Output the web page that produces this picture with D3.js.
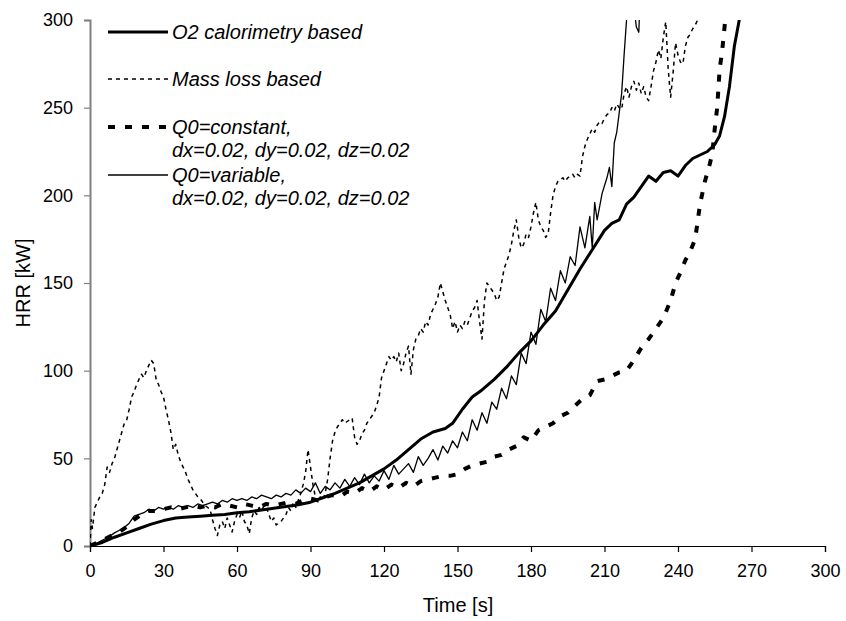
<!DOCTYPE html>
<html>
<head>
<meta charset="utf-8">
<script src="https://cdn.jsdelivr.net/npm/d3@7"></script>
<style>
  body { margin: 0; background: #fff; }
  svg { display: block; font-family: "Liberation Sans", Arial, sans-serif; }
</style>
</head>
<body>
<svg id="chart" width="846" height="621"></svg>
<script>
// ---------------- DATA ----------------
const xTicks = [0, 30, 60, 90, 120, 150, 180, 210, 240, 270, 300];
const yTicks = [0, 50, 100, 150, 200, 250, 300];

const seriesNames = [
  "O2 calorimetry based",
  "Mass loss based",
  "Q0=constant,",
  "Q0=variable,"
];
const seriesSubNames = ["", "", "dx=0.02, dy=0.02, dz=0.02", "dx=0.02, dy=0.02, dz=0.02"];

// O2 calorimetry based
const o2Time = [0,5,10,15,20,25,30,35,40,45,50,55,60,65,70,75,80,85,90,95,100,105,110,115,120,125,130,135,140,145,148,152,156,160,165,170,175,180,185,190,195,200,205,210,213,216,219,222,225,228,231,234,237,240,243,246,249,252,255,257,259,261,263,265,267];
const o2Value = [0,2,5,7.5,10,12.5,14.5,16,16.5,17,17.5,18,19,19.5,20.5,21.5,22.5,23.5,25,27.5,30,33,36,40,44,49,55,61,65,67,70,78,85,89,95,102,110,117,126,134,146,158,169,180,184,186,195,199,205,211,208,213,214,211,217,221,223,225,229,234,245,262,285,300,320];

// Mass loss based
const massTime = [0,0.5,1,2,3,4,5,6,7,8,9,10,11,12,13,14,15,16,17,18,19,20,21,22,23,24,25,26,27,28,29,30,31,32,33,34,35,36,37,38,39,40,41,42,43,44,45,46,47,48,49,50,51,52,53,54,55,56,57,58,59,60,61,62,63,64,65,66,67,68,69,70,71,72,73,74,75,76,77,78,79,80,81,82,83,84,85,86,87,88,89,90,91,92,93,94,95,96,97,98,99,100,101,102,103,104,105,106,107,108,109,110,111,112,113,114,115,116,117,118,119,120,121,122,123,124,125,126,127,128,129,130,131,132,133,134,135,136,137,138,139,140,141,142,143,144,145,146,147,148,149,150,151,152,153,154,155,156,157,158,159,160,161,162,163,164,165,166,167,168,169,170,171,172,173,174,175,176,177,178,179,180,181,182,183,184,185,186,187,188,189,190,191,192,193,194,195,196,197,198,199,200,201,202,203,204,205,206,207,208,209,210,211,212,213,214,215,216,217,218,219,220,221,222,223,224,225,226,227,228,229,230,231,232,233,234,235,236,237,238,239,240,241,242,243,244,245,246,247,248];
const massValue = [0,15,10,22,25,28,30,35,45,42,47,50,55,60,65,70,72,78,85,88,92,95,98,96,100,103,106,104,95,92,88,85,78,72,65,55,58,52,48,45,42,38,35,32,30,28,27,25,23,22,21,15,10,6,12,14,10,16,12,8,14,18,16,20,14,12,7,16,20,18,22,20,23,22,18,14,16,12,13,14,16,18,22,20,25,22,26,30,35,42,55,45,35,28,25,28,26,30,38,50,60,65,68,70,72,70,71,72,73,62,58,60,64,66,70,72,74,76,80,85,96,100,104,108,106,108,105,110,100,104,110,114,98,112,118,120,124,122,128,126,132,135,138,142,150,145,140,136,132,124,128,122,126,124,128,126,130,134,136,140,128,118,140,150,148,146,144,140,142,150,158,162,166,172,180,186,176,170,172,178,176,182,190,196,186,182,180,176,178,190,200,205,208,209,210,208,210,211,212,210,212,211,222,228,232,235,238,236,240,242,241,244,246,247,250,248,252,250,249,258,262,256,262,265,260,264,258,262,256,254,262,271,276,283,278,290,299,272,256,270,287,280,276,275,285,290,292,295,297,300];

// Q0=constant
const constTime = [0,3,6,9,12,15,18,21,24,27,30,33,36,39,42,45,48,51,54,57,60,63,66,69,72,75,78,81,84,87,90,93,96,99,102,105,108,111,114,117,120,123,126,129,132,135,138,141,144,147,150,153,156,159,162,165,168,171,174,177,180,183,186,189,192,195,198,201,204,207,210,213,216,219,222,225,228,231,234,237,239,241,243,245,247,249,251,253,254,255,256,257,258,259,260];
const constValue = [0,2,4,6,8,11,15,18,20,20,21,22,21,22,23,22,23,22,24,23,22,24,23,22,24,23,24,25,24,26,27,26,28,29,28,31,30,33,31,34,32,35,33,36,34,37,38,39,40,40,41,44,46,47,48,51,52,55,57,62,60,66,68,70,74,76,80,84,86,94,95,97,99,100,106,113,118,124,130,140,150,156,163,168,175,195,208,218,224,238,250,272,282,296,310];

// Q0=variable
const varTime = [0,2,4,6,8,10,12,14,16,18,20,22,24,26,28,30,32,34,36,38,40,42,44,46,48,50,52,54,56,58,60,62,64,66,68,70,72,74,76,78,80,82,84,86,88,90,92,94,96,98,100,102,104,106,108,110,112,114,116,118,120,122,124,126,128,130,132,134,136,138,140,142,144,146,148,150,152,154,156,158,160,162,164,166,168,170,172,174,176,178,180,182,184,186,188,190,192,194,196,198,200,202,204,205,206,207,209,211,212,213,214,215,216,217,218,219,221,223,224,225];
const varValue = [0,1,2.5,4,5.5,7.5,9,10.5,13,17,18,19,21,20,22,21,22,21,23,22,23,22,24,23,24,25,24,26,25,27,26,27,26,28,27,29,28,27,29,28,30,29,32,30,33,31,36,30,34,32,36,33,38,34,39,35,41,36,40,37,43,38,46,41,44,47,42,51,46,50,55,49,57,53,60,56,65,60,72,66,76,70,82,78,90,84,97,92,110,104,122,115,135,128,147,140,157,150,165,160,182,170,188,170,196,186,201,210,216,205,230,236,247,258,280,300,320,296,293,330];

// ---------------- LAYOUT ----------------
const svg = d3.select("#chart");
const margin = { left: 90, top: 20, right: 21, bottom: 75 };
const W = 846, H = 621;
const x = d3.scaleLinear().domain([0, 300]).range([margin.left, W - margin.right]);
const y = d3.scaleLinear().domain([0, 300]).range([H - margin.bottom, margin.top]);

svg.append("defs").append("clipPath").attr("id", "clip")
  .append("rect")
  .attr("x", x(0)).attr("y", y(300))
  .attr("width", x(300) - x(0)).attr("height", y(0) - y(300));

// axes
const yAxis = svg.append("g")
  .attr("transform", `translate(${x(0)},0)`)
  .call(d3.axisLeft(y).tickValues(yTicks).tickSize(6).tickPadding(11).tickFormat(d3.format("d")));
yAxis.select(".domain").attr("stroke", "#808080").attr("stroke-width", 2);
yAxis.selectAll(".tick line").attr("stroke", "#808080").attr("stroke-width", 1.2);
yAxis.selectAll(".tick text").attr("font-size", 18).attr("fill", "#000")
  .attr("font-family", "'Liberation Sans', Arial, sans-serif");

const xAxis = svg.append("g")
  .attr("transform", `translate(0,${y(0)})`)
  .call(d3.axisBottom(x).tickValues(xTicks).tickSize(6).tickPadding(12).tickFormat(d3.format("d")));
xAxis.select(".domain").attr("stroke", "#000").attr("stroke-width", 1.2);
xAxis.selectAll(".tick line").attr("stroke", "#000").attr("stroke-width", 1.2);
xAxis.selectAll(".tick text").attr("font-size", 18).attr("fill", "#000")
  .attr("font-family", "'Liberation Sans', Arial, sans-serif");

// axis titles
svg.append("text")
  .attr("x", 458).attr("y", 612)
  .attr("text-anchor", "middle").attr("font-size", 20).attr("fill", "#000")
  .text("Time [s]");
svg.append("text")
  .attr("transform", `translate(30,${(y(0) + y(300)) / 2}) rotate(-90)`)
  .attr("text-anchor", "middle").attr("font-size", 20).attr("fill", "#000")
  .text("HRR [kW]");

// series
const styles = [
  { w: 3, dash: null },
  { w: 1.5, dash: "4,4" },
  { w: 4, dash: "7,10" },
  { w: 1.3, dash: null }
];
const datasets = [
  o2Time.map((t, i) => [t, o2Value[i]]),
  massTime.map((t, i) => [t, massValue[i]]),
  constTime.map((t, i) => [t, constValue[i]]),
  varTime.map((t, i) => [t, varValue[i]])
];
const line = d3.line().x(d => x(d[0])).y(d => y(d[1]));
const plot = svg.append("g").attr("clip-path", "url(#clip)");
[1, 2, 3, 0].forEach(k => {
  plot.append("path")
    .datum(datasets[k])
    .attr("fill", "none")
    .attr("stroke", "#000")
    .attr("stroke-width", styles[k].w)
    .attr("stroke-dasharray", styles[k].dash)
    .attr("stroke-linejoin", "round")
    .attr("d", line);
});

// legend
const legendRows = [32, 79, 127, 175];
const lg = svg.append("g");
legendRows.forEach((ly, k) => {
  lg.append("line")
    .attr("x1", 108).attr("x2", 168).attr("y1", ly).attr("y2", ly)
    .attr("stroke", "#000").attr("stroke-width", styles[k].w)
    .attr("stroke-dasharray", styles[k].dash);
  lg.append("text")
    .attr("x", 172).attr("y", ly + 7)
    .attr("font-size", 20).attr("font-style", "italic").attr("fill", "#000")
    .text(seriesNames[k]);
  if (seriesSubNames[k]) {
    lg.append("text")
      .attr("x", 172).attr("y", ly + 30)
      .attr("font-size", 20).attr("font-style", "italic").attr("fill", "#000")
      .text(seriesSubNames[k]);
  }
});
</script>
</body>
</html>
